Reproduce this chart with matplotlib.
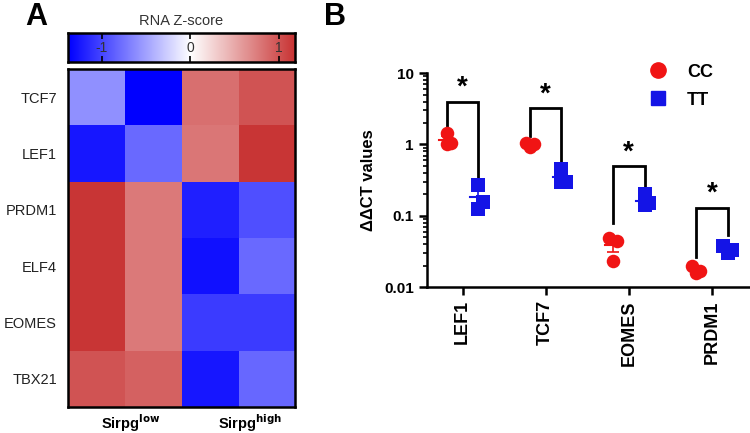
import numpy as np
import matplotlib
matplotlib.use('Agg')
import matplotlib.pyplot as plt
from matplotlib.colors import LinearSegmentedColormap
from matplotlib.lines import Line2D

plt.rcParams['font.family'] = ['Liberation Sans', 'DejaVu Sans']

# Panel A: heatmap data (RNA Z-scores)
heat_genes = ['TCF7', 'LEF1', 'PRDM1', 'ELF4', 'EOMES', 'TBX21']
heat_groups = ['Sirpg$^{\\mathbf{low}}$', 'Sirpg$^{\\mathbf{high}}$']
z_scores = [
    [-0.60, -1.38, 0.82, 0.98],
    [-1.25, -0.80, 0.78, 1.15],
    [1.15, 0.76, -1.20, -0.95],
    [1.15, 0.76, -1.28, -0.80],
    [1.15, 0.76, -1.05, -1.05],
    [0.98, 0.90, -1.25, -0.82],
]
z_min, z_max = -1.38, 1.18

# Panel B: ddCT values
genes_b = ['LEF1', 'TCF7', 'EOMES', 'PRDM1']
cc_vals = [[1.45, 1.05, 1.0], [1.05, 1.0, 0.93], [0.049, 0.045, 0.023], [0.020, 0.017, 0.016]]
tt_vals = [[0.27, 0.155, 0.125], [0.45, 0.30, 0.30], [0.20, 0.15, 0.14], [0.038, 0.033, 0.030]]
bracket_top = [4.0, 3.2, 0.5, 0.13]
bracket_left = [1.5, 1.3, 0.08, 0.026]
bracket_right = [0.33, 0.53, 0.22, 0.053]

cc_color = '#f01414'
tt_color = '#1414e6'

fig = plt.figure(figsize=(7.5, 4.33), dpi=100)

# ---- Panel A ----
cmap = LinearSegmentedColormap.from_list(
    'bwr_z', [(0.0, '#0000ff'), (-z_min / (z_max - z_min), '#ffffff'), (1.0, '#c83232')])

ax_h = fig.add_axes([0.0907, 0.060, 0.3027, 0.7806])
ax_h.imshow(np.array(z_scores), cmap=cmap, vmin=z_min, vmax=z_max, aspect='auto',
            interpolation='nearest')
ax_h.set_yticks(range(len(heat_genes)))
ax_h.set_yticklabels(heat_genes, fontsize=10.5, color='#222222')
ax_h.tick_params(axis='y', length=0, pad=8)
ax_h.set_xticks([])
for sp in ax_h.spines.values():
    sp.set_linewidth(1.8)
for i, g in enumerate(heat_groups):
    ax_h.text(0.6 + 2 * i + 0.1 * i, 5.78, g, ha='center', va='center',
              fontsize=10.5, fontweight='bold')

ax_c = fig.add_axes([0.0907, 0.8568, 0.3027, 0.067])
grad = np.linspace(z_min, z_max, 256).reshape(1, -1)
ax_c.imshow(grad, cmap=cmap, vmin=z_min, vmax=z_max, aspect='auto',
            extent=[z_min, z_max, 0, 1])
ax_c.set_xlim(z_min, z_max)
ax_c.set_ylim(0, 1)
ax_c.set_yticks([])
ax_c.set_xticks([-1, 0, 1])
ax_c.tick_params(axis='x', direction='in', top=True, bottom=True, length=4,
                 width=1.2, labelbottom=False)
for t in [-1, 0, 1]:
    ax_c.text(t, 0.5, str(t), ha='center', va='center', fontsize=10,
              color='#333333', fontstretch='condensed')
for sp in ax_c.spines.values():
    sp.set_linewidth(1.8)
ax_c.set_title('RNA Z-score', fontsize=10.5, color='#333333', pad=6)

fig.text(0.048, 0.96, 'A', fontsize=22, fontweight='bold', ha='center', va='center')
fig.text(0.447, 0.96, 'B', fontsize=22, fontweight='bold', ha='center', va='center')

# ---- Panel B ----
ax = fig.add_axes([0.5693, 0.337, 0.4307, 0.494])
x = np.arange(len(genes_b))
off = 0.19
spread = [-0.05, 0.05, 0.0]

for i in range(len(genes_b)):
    for vals, sign, color, marker in [(cc_vals[i], -1, cc_color, 'o'),
                                      (tt_vals[i], 1, tt_color, 's')]:
        xc = x[i] + sign * off
        v = np.array(vals)
        lv = np.log10(v)
        xs = []
        for j in range(len(v)):
            close = np.sum(np.abs(lv - lv[j]) < 0.1) > 1
            xs.append(xc + (spread[j] if close else 0.0))
        ax.scatter(xs, v, s=95, marker=marker, color=color, zorder=3, linewidths=0)
        m = v.mean()
        sem = v.std(ddof=1) / np.sqrt(len(v))
        ax.errorbar(xc, m, yerr=sem, color=color, capsize=4, elinewidth=1.2,
                    capthick=1.2, zorder=4)
        ax.plot([xc - 0.1, xc + 0.1], [m, m], color=color, lw=1.5, zorder=4)
    # significance bracket
    xl, xr = x[i] - off, x[i] + off
    ax.plot([xl, xl, xr, xr], [bracket_left[i], bracket_top[i], bracket_top[i], bracket_right[i]],
            color='black', lw=2, zorder=2, solid_joinstyle='miter')
    ax.text(x[i], bracket_top[i] * 1.02, '*', ha='center', va='bottom',
            fontsize=20, fontweight='bold')

ax.set_yscale('log')
ax.set_ylim(0.01, 10)
ax.set_xlim(-0.43, 3.46)
ax.set_yticks([0.01, 0.1, 1, 10])
ax.set_yticklabels(['0.01', '0.1', '1', '10'], fontweight='bold', fontsize=11)
ax.set_xticks(x)
ax.set_xticklabels(genes_b, rotation=90, fontweight='bold', fontsize=13)
ax.tick_params(axis='both', which='major', width=1.8, length=6)
ax.tick_params(axis='y', which='minor', width=1.2, length=3)
ax.set_ylabel('ΔΔCT values', fontweight='bold', fontsize=12, labelpad=6)
ax.spines['top'].set_visible(False)
ax.spines['right'].set_visible(False)
ax.spines['left'].set_linewidth(1.8)
ax.spines['bottom'].set_linewidth(1.8)

handles = [Line2D([], [], marker='o', color=cc_color, ls='', markersize=11),
           Line2D([], [], marker='s', color=tt_color, ls='', markersize=10)]
ax.legend(handles, ['CC', 'TT'], loc='upper left', bbox_to_anchor=(0.61, 1.12),
          frameon=False, prop={'weight': 'bold', 'size': 13}, handletextpad=0.6,
          labelspacing=0.6)

fig.savefig('out.png', dpi=100)
